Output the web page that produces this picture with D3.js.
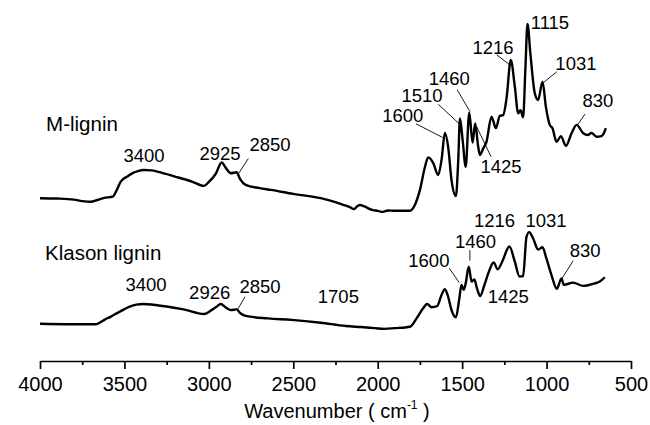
<!DOCTYPE html>
<html>
<head>
<meta charset="utf-8">
<script src="https://cdn.jsdelivr.net/npm/d3@7/dist/d3.min.js"></script>
<style>
  body { margin: 0; background: #fff; }
  text { font-family: "Liberation Sans", Arial, sans-serif; fill: #000; }
</style>
</head>
<body>
<svg id="chart" width="650" height="425"></svg>
<script>
// wavenumber (cm-1) and intensity (a.u.)
const mWn = [4000,3900,3800,3750,3700,3660,3620,3571,3540,3522,3480,3449,3420,3386,3340,3300,3200,3100,3029,3000,2960,2924,2900,2869,2836,2815,2782,2700,2633,2500,2337,2250,2200,2165,2140,2120,2105,2080,2028,2000,1969,1940,1900,1809,1780,1750,1720,1701,1671,1642,1622,1602,1583,1563,1537,1523,1513,1497,1479,1458,1438,1423,1405,1395,1375,1356,1326,1300,1277,1257,1237,1212,1188,1168,1154,1139,1125,1113,1096,1070,1050,1024,1004,981,965,941,915,886,852,822,783,754,734,704,675,660,649];
const mAbs = [45.1,45.0,44.7,44.3,44.1,44.6,45.2,45.5,47.9,49.7,51.2,52.1,52.6,52.9,52.8,52.4,51.1,49.7,48.5,49.6,51.8,55.0,53.5,52.0,52.3,50.4,48.8,47.9,47.4,46.3,45.1,44.0,43.2,42.6,42.1,42.9,43.2,42.8,41.8,41.6,41.3,41.7,41.6,41.6,43.2,47.4,53.8,56.4,54.8,51.5,55.7,63.2,59.4,50.1,45.7,55.7,67.2,61.2,53.8,68.8,60.5,65.8,59.4,57.1,58.9,60.7,67.7,64.5,67.9,68.1,72.8,83.4,76.0,68.6,69.5,67.5,81.5,93.4,85.2,74.2,72.3,77.4,70.4,65.4,64.5,60.7,62.3,59.6,63.1,65.4,63.1,62.6,63.2,62.1,62.3,63.2,64.5];

const kWn = [4000,3850,3700,3669,3640,3619,3580,3546,3510,3473,3430,3386,3330,3250,3150,3029,2990,2955,2930,2900,2869,2836,2815,2782,2650,2510,2337,2189,2100,2017,1960,1900,1809,1770,1731,1707,1681,1648,1622,1602,1583,1563,1537,1518,1504,1491,1479,1461,1444,1428,1412,1393,1368,1342,1314,1289,1263,1220,1188,1160,1139,1119,1103,1080,1050,1024,1001,971,939,912,898,843,783,714,685,655];
const kAbs = [10.3,10.2,10.2,10.2,10.8,11.4,12.3,13.2,14.1,15.0,15.6,15.8,15.6,15.1,14.3,13.0,13.9,15.0,15.8,14.8,14.1,14.3,13.3,12.5,11.8,11.4,10.6,9.7,9.4,9.1,8.9,9.1,9.5,11.8,14.6,15.8,14.9,15.2,18.3,19.9,17.8,14.1,12.1,16.9,21.1,19.7,21.5,26.1,22.0,22.6,20.1,18.0,21.1,24.7,27.3,25.4,27.5,31.7,27.5,23.4,23.5,34.4,35.7,34.0,30.9,31.5,28.4,23.8,20.0,22.9,21.1,21.7,20.8,21.5,22.0,23.2];

const majorTicks = [4000,3500,3000,2500,2000,1500,1000,500];
const minorTicks = [3750,3250,2750,2250,1750,1250,750];

// series names, placed at [wn, a.u.]
const seriesNames = [
  {text: "M-lignin", wn: 3964, v: 63.8},
  {text: "Klason lignin", wn: 3970, v: 28.0}
];

// peak labels: text at [wn, v]; optional leader from [wn, v] to [wn, v]
const peakLabels = [
  {text: "3400", wn: 3384, v: 55.2},
  {text: "2925", wn: 2934, v: 55.7},
  {text: "2850", wn: 2638, v: 58.3, lead: [[2766, 56.1], [2826, 51.8]]},
  {text: "1600", wn: 1852, v: 66.3, lead: [[1773, 65.7], [1615, 61.9]]},
  {text: "1510", wn: 1738, v: 71.8, lead: [[1641, 71.1], [1517, 65.7]]},
  {text: "1460", wn: 1576, v: 76.5, lead: [[1529, 75.1], [1454, 69.1]]},
  {text: "1425", wn: 1270, v: 52.2, lead: [[1414, 64.9], [1329, 56.6]]},
  {text: "1216", wn: 1317, v: 85.0, lead: [[1295, 84.8], [1217, 82.0]]},
  {text: "1115", wn: 980,  v: 91.9},
  {text: "1031", wn: 826,  v: 80.6, lead: [[940, 80.1], [1019, 77.1]]},
  {text: "830",  wn: 696,  v: 70.4, lead: [[772, 68.4], [822, 65.1]]},

  {text: "3400", wn: 3372, v: 19.5},
  {text: "2926", wn: 2995, v: 17.1},
  {text: "2850", wn: 2697, v: 18.8, lead: [[2786, 17.8], [2832, 14.1]]},
  {text: "1705", wn: 2233, v: 16.1},
  {text: "1600", wn: 1697, v: 26.1, lead: [[1576, 25.7], [1517, 21.7]]},
  {text: "1460", wn: 1421, v: 31.2, lead: [[1454, 30.7], [1454, 27.8]]},
  {text: "1425", wn: 1227, v: 16.1},
  {text: "1216", wn: 1308, v: 37.2},
  {text: "1031", wn: 1003, v: 37.0},
  {text: "830",  wn: 772,  v: 28.7, lead: [[842, 27.8], [911, 22.7]]}
];

const svg = d3.select("#chart");

const x = d3.scaleLinear().domain([4000, 500]).range([40, 631]);
const y = d3.scaleLinear().domain([0, 100]).range([361, 0]);

const line = d3.line()
  .x(d => x(d[0]))
  .y(d => y(d[1]))
  .curve(d3.curveMonotoneX);

[d3.zip(mWn, mAbs), d3.zip(kWn, kAbs)].forEach(pts => {
  svg.append("path")
    .datum(pts)
    .attr("fill", "none")
    .attr("stroke", "#000")
    .attr("stroke-width", 2.4)
    .attr("stroke-linejoin", "round")
    .attr("d", line);
});

// leaders
svg.append("g")
  .selectAll("line")
  .data(peakLabels.filter(d => d.lead))
  .join("line")
  .attr("x1", d => x(d.lead[0][0]))
  .attr("y1", d => y(d.lead[0][1]))
  .attr("x2", d => x(d.lead[1][0]))
  .attr("y2", d => y(d.lead[1][1]))
  .attr("stroke", "#000")
  .attr("stroke-width", 0.9);

svg.append("g")
  .selectAll("text")
  .data(peakLabels)
  .join("text")
  .attr("x", d => x(d.wn))
  .attr("y", d => y(d.v))
  .attr("text-anchor", "middle")
  .style("font-size", "18.5px")
  .text(d => d.text);

svg.append("g")
  .selectAll("text")
  .data(seriesNames)
  .join("text")
  .attr("x", d => x(d.wn))
  .attr("y", d => y(d.v))
  .style("font-size", "20.5px")
  .text(d => d.text);

// x axis
const axisG = svg.append("g").attr("transform", `translate(0,${y(0)})`);
axisG.call(d3.axisBottom(x).tickValues(majorTicks).tickFormat(d3.format("d"))
  .tickSize(8).tickSizeOuter(0).tickPadding(8));
axisG.selectAll(".tick text").style("font-size", "20px").style("font-family", '"Liberation Sans", Arial, sans-serif');
axisG.selectAll("path, line").attr("stroke-width", 1.7);

const minorG = svg.append("g").attr("transform", `translate(0,${y(0)})`);
minorG.call(d3.axisBottom(x).tickValues(minorTicks).tickSize(4).tickSizeOuter(0).tickFormat(""));
minorG.select(".domain").remove();
minorG.selectAll("line").attr("stroke-width", 1.7);

const title = svg.append("text")
  .attr("x", 337)
  .attr("y", 418)
  .attr("text-anchor", "middle")
  .style("font-size", "20px");
title.append("tspan").text("Wavenumber ( cm");
title.append("tspan").attr("dy", -9).style("font-size", "12px").text("-1");
title.append("tspan").attr("dy", 9).text(" )");
</script>
</body>
</html>
